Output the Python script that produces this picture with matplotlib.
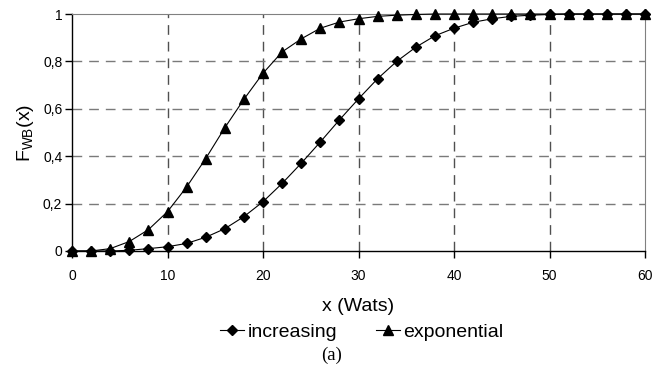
import matplotlib
matplotlib.use('Agg')
import matplotlib.pyplot as plt
from matplotlib.ticker import FuncFormatter

# power values (W), every 2 W
x_wats = [0, 2, 4, 6, 8, 10, 12, 14, 16, 18, 20, 22, 24, 26, 28, 30,
          32, 34, 36, 38, 40, 42, 44, 46, 48, 50, 52, 54, 56, 58, 60]

# F_WB(x)
increasing = [0, 0, 0, 0.003, 0.01, 0.018, 0.032, 0.058, 0.094, 0.145, 0.208,
              0.285, 0.37, 0.46, 0.553, 0.642, 0.727, 0.80, 0.86, 0.908, 0.94,
              0.965, 0.98, 0.99, 0.995, 0.998, 1, 1, 1, 1, 1]
exponential = [0, 0, 0.01, 0.04, 0.09, 0.166, 0.27, 0.39, 0.52, 0.64, 0.75,
               0.84, 0.895, 0.94, 0.966, 0.98, 0.99, 0.995, 0.998, 1, 1,
               1, 1, 1, 1, 1, 1, 1, 1, 1, 1]

x_ticks = [0, 10, 20, 30, 40, 50, 60]
y_ticks = [0, 0.2, 0.4, 0.6, 0.8, 1.0]

plt.rcParams['font.family'] = ['Liberation Sans', 'DejaVu Sans']

fig = plt.figure(figsize=(6.64, 3.67), dpi=100)
ax = fig.add_axes([72 / 664, 1 - 251 / 367, (645 - 72) / 664, (251 - 14) / 367])

ax.plot(x_wats, increasing, color='black', lw=0.8, marker='D', ms=5.5,
        label='increasing', clip_on=False, zorder=3)
ax.plot(x_wats, exponential, color='black', lw=0.8, marker='^', ms=7,
        label='exponential', clip_on=False, zorder=3)

ax.set_xlim(0, 60)
ax.set_ylim(0, 1)
ax.set_xticks(x_ticks)
ax.set_yticks(y_ticks)
ax.yaxis.set_major_formatter(FuncFormatter(
    lambda v, p: ('%g' % round(v, 1)).replace('.', ',')))

# dashed grid, vertical a bit darker than horizontal
for xv in x_ticks[1:-1]:
    ax.axvline(xv, color='#505050', lw=1.0, ls=(0, (7, 5)), zorder=1)
for yv in y_ticks[1:-1]:
    ax.axhline(yv, color='#7a7a7a', lw=1.0, ls=(0, (7, 5)), zorder=1)

ax.spines['top'].set_color('#808080')
ax.spines['right'].set_color('#808080')
for s in ['left', 'bottom']:
    ax.spines[s].set_color('black')
    ax.spines[s].set_linewidth(1.0)

ax.tick_params(direction='out', length=5, width=1, labelsize=10)
ax.tick_params(axis='x', pad=8)
ax.tick_params(axis='y', pad=2)

ax.set_xlabel('x (Wats)', fontsize=14, labelpad=11)
ax.set_ylabel(r'F$_{\mathregular{WB}}$(x)', fontsize=14, labelpad=5)

fig.legend(loc='center', bbox_to_anchor=(362 / 664, 1 - 332 / 367), ncol=2,
           frameon=False, fontsize=14, handlelength=1.2, handletextpad=0.2,
           columnspacing=2.0, borderpad=0)

fig.text(332 / 664, 1 - 355 / 367, '(a)', family='Liberation Serif',
         fontsize=13.5, ha='center', va='center')

fig.savefig('out.png', dpi=100)
